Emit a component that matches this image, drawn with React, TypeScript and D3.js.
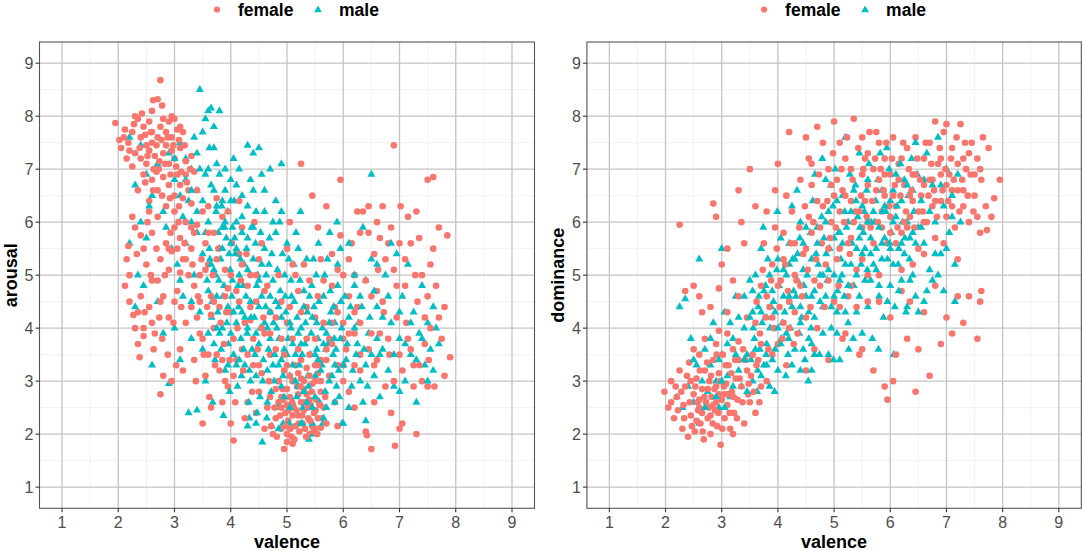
import React from "react";
import * as d3 from "d3";

// ---------- data ----------
const ticks = [1, 2, 3, 4, 5, 6, 7, 8, 9];
const minorTicks = [1.5, 2.5, 3.5, 4.5, 5.5, 6.5, 7.5, 8.5];
const series = ["female", "male"];
const colors = ["#F8766D", "#00BFC4"];

// left panel: [valence, arousal]
const femaleArousal: [number, number][] = [
  [1.95,7.87],[2.05,7.4],[2.1,7.6],[2.18,7.5],[2.25,7.7],[2.3,8.0],[2.35,7.95],[2.4,7.6],[2.45,7.8],[2.5,7.45],[2.55,7.9],[2.6,8.1],[2.62,8.3],[2.7,8.32],[2.75,8.68],[2.78,8.2],[2.8,7.95],[2.85,7.7],[2.9,7.9],[2.95,7.6],[3.0,7.95],[3.05,7.75],[3.1,7.8],[3.15,7.7],[2.3,7.3],[2.4,7.2],[2.5,7.1],[2.55,7.35],[2.6,7.5],[2.65,7.25],[2.7,7.6],[2.72,7.0],[2.8,7.3],[2.85,7.45],[2.9,7.1],[2.95,7.35],[3.0,7.2],[3.05,6.9],[3.1,7.4],[3.2,7.15],[2.45,6.9],[2.6,6.8],[2.7,6.6],[2.8,6.85],[2.9,6.7],[3.0,6.5],[3.1,6.7],[3.2,6.9],[3.25,6.6],[2.35,6.6],[2.55,6.4],[2.25,7.05],[2.15,7.2],[2.6,7.7],[2.75,7.8],[2.95,8.0],[3.3,7.25],[3.35,6.95],[3.4,6.6],[3.3,6.35],
  [2.15,5.3],[2.2,5.0],[2.25,6.1],[2.3,5.9],[2.3,4.0],[2.35,3.7],[2.4,4.6],[2.45,5.5],[2.5,5.2],[2.55,4.4],[2.6,5.8],[2.65,3.9],[2.7,4.9],[2.75,2.75],[2.8,3.1],[2.85,5.6],[2.9,4.2],[2.95,3.0],[3.0,5.9],[3.05,4.7],[3.1,3.6],[3.15,5.3],[3.2,4.1],[2.4,5.75],[2.55,6.2],[2.7,6.1],[2.85,6.3],[3.0,6.2],[3.1,5.7],[3.2,6.0],[2.6,4.1],[2.75,5.3],[2.9,5.1],[3.0,4.5],[3.15,3.2],[2.2,4.5],[2.45,3.85],[2.8,4.6],[3.1,5.05],[2.95,5.45],
  [3.3,5.5],[3.35,4.8],[3.4,4.2],[3.45,3.9],[3.5,2.2],[3.55,3.1],[3.6,5.2],[3.65,4.6],[3.7,5.8],[3.75,3.5],[3.8,4.4],[3.85,6.1],[3.9,3.0],[3.95,2.9],[4.0,2.2],[4.05,1.88],[4.1,4.7],[4.15,5.4],[4.2,3.6],[4.25,4.1],[4.3,2.6],[4.35,5.0],[4.4,3.3],[4.45,4.5],[4.5,2.8],[4.55,5.6],[4.6,3.9],[4.65,2.5],[4.7,4.3],[3.4,5.95],[3.55,5.6],[3.7,4.0],[3.8,3.2],[3.9,5.1],[4.0,4.3],[4.1,3.4],[4.2,5.9],[4.3,4.8],[4.4,3.8],[4.5,5.3],[4.6,4.7],[3.35,3.4],[3.5,3.8],[3.65,2.5],[3.85,2.6],[4.05,3.1],[4.25,2.3],[4.45,2.4],[4.6,2.1],[4.7,3.5],[3.6,6.3],[3.75,6.45],[3.95,6.2],[4.15,6.4],[3.3,4.4],[3.45,5.0],[3.65,4.25],[3.95,4.75],[4.35,4.15],[4.55,3.15],
  [4.75,2.0],[4.8,2.3],[4.85,2.6],[4.9,2.1],[4.92,2.85],[4.95,1.72],[4.97,2.4],[5.0,2.0],[5.02,2.25],[5.05,2.7],[5.08,1.95],[5.1,1.82],[5.12,2.5],[5.15,2.15],[5.18,2.9],[5.2,2.35],[5.22,2.05],[5.25,2.6],[5.28,2.2],[5.3,2.45],[5.32,2.1],[5.35,2.75],[5.38,2.3],[5.4,2.0],[5.42,2.55],[5.45,2.15],[5.48,2.4],[5.5,2.1],[5.52,2.65],[5.55,2.3],[5.6,2.12],[5.65,2.5],[4.85,3.0],[4.95,3.2],[5.05,3.1],[5.15,3.3],[5.25,3.05],[5.35,3.25],[5.45,2.95],[5.55,3.15],[4.9,2.5],[5.0,2.55],[5.1,2.35],[5.2,2.75],[5.3,2.85],[5.4,2.65],[4.7,2.7],[4.8,2.85],[5.6,2.8],[5.0,1.85],
  [4.8,3.6],[4.9,4.5],[5.0,5.5],[5.05,6.0],[5.1,3.8],[5.2,4.7],[5.25,7.1],[5.3,5.2],[5.4,3.5],[5.45,6.5],[5.5,4.2],[5.55,5.9],[5.6,3.4],[5.65,4.9],[5.7,6.3],[5.75,3.8],[5.8,5.4],[5.85,4.4],[5.9,3.3],[5.95,6.8],[6.0,5.0],[6.05,3.6],[6.1,4.6],[6.15,5.6],[6.2,3.9],[6.25,6.2],[5.0,4.1],[5.15,5.0],[5.35,4.4],[5.6,5.3],[5.8,4.8],[6.0,4.1],[6.2,5.0],[5.7,2.2],[5.9,2.15],[6.1,2.8],[6.2,2.5],[5.85,2.6],[6.3,3.5],[5.5,3.0],[5.75,3.1],[6.0,3.3],[6.25,4.4],[6.3,5.8],[5.95,5.75],
  [6.35,6.2],[6.4,2.05],[6.42,1.98],[6.45,5.8],[6.5,1.72],[6.5,4.6],[6.55,3.3],[6.6,6.0],[6.62,5.1],[6.65,3.9],[6.7,6.3],[6.72,4.3],[6.75,2.9],[6.8,5.6],[6.82,3.5],[6.85,5.9],[6.9,7.45],[6.92,1.78],[6.95,4.8],[7.0,2.1],[7.02,6.3],[7.05,2.2],[7.05,3.2],[7.1,5.3],[7.12,4.1],[7.15,6.1],[7.2,3.6],[7.25,2.9],[7.28,5.0],[7.3,2.0],[7.32,4.5],[7.35,5.7],[7.4,3.0],[7.45,4.2],[7.5,6.8],[7.52,3.4],[7.55,5.2],[7.6,6.85],[7.62,2.9],[7.65,4.8],[7.7,5.9],[7.75,3.8],[7.8,4.4],[7.85,5.75],[7.9,3.45],[6.45,3.6],[6.6,4.7],[6.75,5.3],[6.9,3.0],[7.0,5.6],[7.15,3.8],[7.35,3.3],[7.5,4.6],[6.55,2.6],[6.85,2.4],
  [2.02,7.55],[2.12,7.75],[2.2,7.35],[2.28,7.85],[2.38,7.4],[2.42,8.05],[2.48,7.65],[2.52,7.25],[2.58,7.7],[2.63,7.0],[2.68,7.45],[2.73,7.15],[2.77,7.55],[2.83,7.1],[2.88,7.6],[2.93,6.9],[2.98,7.45],[3.03,7.05],[3.08,7.55],[3.12,6.95],[3.18,7.45],[3.22,6.75],[2.62,6.6],[2.78,6.5],[2.92,6.45],[3.08,6.3],[2.48,6.75],[2.68,6.95],[3.28,7.0],[3.15,6.45],
  [2.12,4.8],[2.18,5.55],[2.27,4.25],[2.33,5.4],[2.38,3.45],[2.47,4.3],[2.52,6.0],[2.58,5.0],[2.63,3.6],[2.68,5.5],[2.73,4.2],[2.78,3.8],[2.83,5.0],[2.88,3.5],[2.93,5.8],[2.98,4.1],[3.03,3.3],[3.07,6.0],[3.12,4.4],[3.18,5.6],
  [3.32,5.2],[3.38,3.0],[3.42,4.6],[3.48,5.3],[3.52,3.5],[3.58,4.4],[3.62,2.7],[3.68,5.0],[3.72,3.3],[3.78,5.5],[3.82,4.1],[3.88,3.7],[3.92,4.3],[3.98,3.4],[4.02,5.6],[4.08,2.6],[4.12,4.0],[4.18,4.9],[4.22,3.2],[4.28,5.4],[4.38,2.8],[4.48,3.6],[4.58,4.2],[4.68,3.0],[4.42,6.0],
  [4.72,2.15],[4.78,2.5],[4.82,1.95],[4.88,2.35],[4.93,2.65],[4.98,2.15],[5.03,2.45],[5.06,2.1],[5.09,2.6],[5.13,1.9],[5.17,2.45],[5.21,2.2],[5.24,2.9],[5.27,2.35],[5.31,2.6],[5.34,1.95],[5.37,2.5],[5.41,2.25],[5.44,2.8],[5.47,2.05],[5.51,2.45],[5.54,2.0],[5.58,2.55],[5.62,2.3],[5.68,2.7],[4.9,2.7],[5.0,2.85],[5.1,3.0],[5.2,3.15],[5.3,3.0],[5.4,3.1],[5.5,3.3],[5.6,3.0],[4.95,3.5],[5.25,3.4],
  [5.55,4.6],[5.7,3.6],[5.8,4.1],[5.9,5.1],[6.0,3.8],[6.1,5.3],[6.2,4.3],[6.3,3.2],[6.4,4.9],[6.5,3.9],[6.55,5.4],[6.6,3.4],[6.7,4.5],[6.8,3.8],[6.9,5.1],[6.95,4.2],[7.0,3.5],[7.1,4.8],[7.2,5.6],[7.25,3.3],[7.3,6.2],[7.4,5.0],[7.45,3.7],[7.5,2.9],[7.55,4.0],[7.6,5.5],[7.7,4.2],[7.8,3.1],[6.45,6.3],[6.65,5.7],
  [3.25,5.0],[3.35,5.8],[3.45,4.5],[3.55,5.1],[3.6,3.5],[3.7,4.5],[3.75,5.3],[3.85,3.4],[3.9,4.6],[4.0,5.0],[4.05,3.8],[4.15,4.5],[4.2,5.2],[4.3,3.5],[4.35,4.4],[4.45,5.0],[4.5,3.3],[4.55,4.0],[4.65,4.8],[4.7,3.9],[4.8,4.2],[4.85,5.0],[4.9,3.8],[5.0,3.3],[5.05,4.4],[5.1,5.2],[5.2,3.6],[5.25,4.3],[5.35,3.8],[5.4,4.9],[5.5,3.8],[5.55,3.3],[5.65,4.1],[5.7,3.4],[5.8,3.7],[5.9,4.3],[6.0,3.0],[6.1,3.9],[6.2,3.3],[6.3,4.1],[3.5,6.2],[3.6,5.8],[3.3,5.9],[3.2,5.3],[3.05,5.5],[2.9,5.5],[2.75,4.5],[2.6,4.9],[2.45,4.0],[2.35,4.3],
];

const maleArousal: [number, number][] = [
  [2.2,7.6],[2.3,6.7],[2.4,7.45],[2.5,6.9],[2.6,6.5],[2.8,6.2],[2.9,7.3],[3.0,6.8],[3.1,7.5],[3.2,7.2],[3.25,6.4],[3.3,7.0],[3.35,7.6],[3.4,6.2],[3.45,8.5],[3.5,7.7],[3.55,6.9],[3.6,8.1],[3.62,7.4],[3.65,8.15],[3.7,6.6],[3.75,7.1],[3.8,8.1],[3.85,6.4],[3.9,7.0],[3.95,6.2],[4.0,6.8],[4.05,7.2],[4.1,6.0],[4.2,6.5],[4.3,7.45],[4.35,6.8],[4.4,7.3],[4.45,6.2],[4.5,7.4],[4.6,6.6],[4.7,7.0],[4.8,6.4],[4.9,7.1],[3.55,7.95],[3.7,7.8],[3.4,6.6],[3.3,6.0],[3.6,6.0],[3.85,5.9],[4.15,7.0],[2.7,7.1],[3.15,6.1],[4.55,6.9],[4.9,6.2],
  [2.2,5.6],[2.3,4.4],[2.35,5.0],[2.45,4.8],[2.5,5.7],[2.6,3.3],[2.7,4.5],[2.8,3.9],[2.85,5.9],[2.9,2.95],[3.0,4.0],[3.05,5.2],[3.1,3.4],[3.15,4.6],[3.2,5.6],[3.25,2.4],[3.3,3.8],[3.35,5.0],[3.4,2.45],[3.45,4.3],[3.5,5.4],[3.55,3.0],[3.6,4.7],[2.4,6.0],[2.55,6.3],[2.95,5.5],[3.1,4.9],[3.3,4.5],[3.5,3.6],[3.4,5.8],
  [3.62,5.5],[3.66,4.2],[3.7,5.1],[3.72,3.4],[3.75,4.6],[3.78,5.8],[3.8,3.9],[3.68,2.6],[3.74,6.2],[3.79,4.9],
  [3.82,5.3],[3.85,4.0],[3.88,4.8],[3.9,3.2],[3.92,5.7],[3.95,4.4],[3.98,2.8],[3.84,6.3],[3.96,3.7],[3.99,5.1],[3.87,2.35],
  [4.02,4.6],[4.05,3.5],[4.08,5.4],[4.1,4.1],[4.12,2.9],[4.15,5.0],[4.18,3.8],[4.03,5.9],[4.14,4.4],[4.19,3.1],[4.06,6.4],
  [4.22,4.8],[4.25,3.3],[4.28,5.5],[4.3,4.0],[4.32,2.6],[4.35,4.5],[4.38,3.6],[4.24,5.2],[4.33,2.3],[4.37,5.9],[4.29,3.9],
  [4.42,4.2],[4.45,3.1],[4.48,5.0],[4.5,3.7],[4.52,2.7],[4.55,4.6],[4.58,3.4],[4.44,5.6],[4.56,1.85],[4.53,4.0],[4.47,2.4],
  [4.62,4.4],[4.65,3.2],[4.68,5.2],[4.7,3.8],[4.72,2.8],[4.75,4.9],[4.78,3.5],[4.64,2.3],[4.76,4.1],[4.69,5.7],[4.73,2.15],
  [4.82,4.0],[4.85,3.3],[4.88,4.7],[4.9,2.9],[4.92,5.4],[4.95,3.6],[4.98,4.3],[4.84,2.5],[4.96,5.0],[4.87,6.0],[4.93,2.2],
  [5.02,3.8],[5.05,3.1],[5.08,4.6],[5.1,2.6],[5.12,5.2],[5.15,3.5],[5.18,4.2],[5.04,2.2],[5.16,5.8],[5.07,4.9],[5.19,2.9],
  [5.22,3.3],[5.25,4.0],[5.28,2.5],[5.3,4.7],[5.32,3.7],[5.35,5.3],[5.38,2.9],[5.24,6.2],[5.36,4.3],[5.39,1.9],[5.27,2.2],
  [5.42,3.5],[5.45,2.2],[5.48,4.4],[5.5,3.1],[5.52,5.0],[5.55,3.8],[5.58,2.6],[5.44,4.8],[5.56,5.6],[5.47,2.0],[5.53,4.1],
  [5.62,3.3],[5.65,4.6],[5.68,2.8],[5.7,3.9],[5.72,5.3],[5.75,3.0],[5.78,4.3],[5.64,2.2],[5.76,5.8],[5.69,3.6],
  [5.82,3.5],[5.85,4.1],[5.88,2.9],[5.9,4.8],[5.92,3.2],[5.95,5.5],[5.98,2.2],[5.84,3.8],[5.96,4.5],[5.89,6.0],
  [6.05,3.4],[6.1,4.2],[6.15,2.9],[6.2,5.0],[6.25,3.7],[6.3,4.6],[6.35,2.6],[6.4,2.25],[6.45,3.9],[6.5,6.9],[6.5,5.3],[6.55,3.1],[6.6,4.4],[6.65,2.7],[6.7,3.6],[6.75,5.0],[6.8,3.2],[6.85,4.1],[6.9,2.9],[6.95,5.4],[7.0,3.8],[7.05,4.6],[7.1,3.0],[7.15,5.2],[7.2,3.5],[7.25,4.3],[7.3,2.6],[7.35,3.9],[7.4,4.8],[7.45,3.3],[7.5,4.1],[7.55,3.6],[7.6,3.2],[7.65,4.0],[7.7,3.7],[6.2,4.0],[6.4,3.3],[6.6,3.8],[6.1,5.6],[6.35,5.9],
  [3.0,7.2],[3.1,6.5],[3.2,6.8],[3.3,6.6],[3.4,7.3],[3.5,6.4],[3.6,7.0],[3.65,6.7],[3.7,7.4],[3.75,6.3],[3.8,6.9],[3.9,6.6],[4.0,6.4],[4.1,6.7],[4.2,6.1],[4.3,6.3],[4.4,6.6],[4.6,6.2],[4.75,6.0],[3.45,7.0],
  [3.55,5.8],[3.58,4.9],[3.6,3.9],[3.63,5.3],[3.67,4.5],[3.7,3.7],[3.73,5.0],[3.77,4.3],[3.8,5.5],[3.83,3.6],
  [3.86,4.6],[3.89,5.9],[3.93,4.1],[3.97,5.4],[4.0,3.9],[4.03,4.9],[4.07,5.7],[4.1,3.3],[4.13,4.8],[4.17,5.3],
  [4.2,4.3],[4.23,3.6],[4.27,4.6],[4.3,5.7],[4.33,3.2],[4.36,4.2],[4.4,5.3],[4.43,3.5],[4.46,4.8],[4.5,4.4],
  [4.53,5.8],[4.57,3.0],[4.6,4.1],[4.63,5.0],[4.67,3.6],[4.7,4.6],[4.73,5.4],[4.77,3.0],[4.8,4.5],[4.83,5.1],
  [4.86,3.8],[4.9,4.2],[4.93,3.1],[4.97,4.6],[5.0,3.5],[5.03,5.3],[5.07,4.0],[5.1,3.3],[5.13,4.5],[5.17,2.7],
  [5.2,3.9],[5.23,4.9],[5.27,3.5],[5.3,2.8],[5.33,4.1],[5.37,3.1],[5.4,4.6],[5.43,3.9],[5.47,5.3],[5.5,2.7],
  [5.53,3.6],[5.57,4.5],[5.6,3.2],[5.63,4.0],[5.67,5.0],[5.7,2.5],[5.73,3.7],[5.77,4.7],[5.8,3.1],[5.83,4.4],
  [5.87,3.6],[5.9,5.2],[5.93,2.7],[5.97,4.0],[6.0,3.3],[6.03,4.6],[6.07,3.7],[6.1,2.5],[6.13,4.4],[6.17,3.2],
  [6.2,4.8],[6.23,3.5],[6.27,4.1],[6.3,3.0],[6.33,4.4],[6.37,3.6],[6.4,4.9],[6.43,2.9],[6.47,4.2],[6.5,3.5],
  [4.45,2.2],[4.65,2.6],[4.85,2.1],[5.05,2.5],[5.25,2.2],[5.45,2.5],[5.65,2.3],[5.85,2.6],[6.0,2.2],[4.3,2.15],
  [6.55,4.7],[6.65,3.5],[6.7,4.2],[6.8,4.6],[6.9,3.5],[7.0,4.3],[7.1,3.7],[7.2,4.1],[7.3,3.4],[7.4,3.8],[7.5,3.0],[7.6,4.4],[6.6,5.2],[6.85,5.6],[7.0,2.8],
  [3.65,5.2],[3.75,4.0],[3.85,5.5],[3.95,3.3],[4.05,4.3],[4.15,3.4],[4.25,4.2],[4.35,3.0],[4.45,3.9],[4.55,5.2],[4.65,4.0],[4.75,3.3],[4.85,4.4],[4.95,2.7],[5.05,4.1],[5.15,3.0],[5.25,3.7],[5.35,2.6],[5.45,4.2],[5.55,3.4],[5.65,3.7],[5.75,4.1],[5.85,3.3],[5.95,3.8],[4.1,5.5],[4.3,5.1],[4.5,4.9],[4.7,4.3],[4.9,3.4],[5.1,3.7],[5.3,4.4],[5.5,3.5],[4.0,5.6],[3.9,6.0],[4.2,5.8],[4.4,5.9],[4.6,5.5],[4.8,5.8],[5.0,5.6],[5.2,5.5],
];

// right panel: [valence, dominance]
const femaleDominance: [number, number][] = [
  [1.98,2.8],[2.05,2.5],[2.1,3.0],[2.15,2.3],[2.2,2.7],[2.25,3.2],[2.3,2.1],[2.32,2.55],[2.35,2.9],[2.4,1.95],[2.42,3.35],[2.45,2.35],[2.5,2.75],[2.52,2.05],[2.55,3.05],[2.58,2.45],[2.6,3.5],[2.62,2.2],[2.65,2.85],[2.68,1.9],[2.7,3.2],[2.72,2.6],[2.75,2.3],[2.78,3.0],[2.8,2.0],[2.82,2.7],[2.85,3.4],[2.88,2.45],[2.9,2.9],[2.92,2.15],[2.95,3.15],[2.98,1.8],[3.0,2.65],[3.02,3.5],[3.05,2.3],[3.08,2.95],[3.1,2.55],[3.12,3.3],[3.15,2.1],[3.18,2.8],[3.2,3.6],[3.22,2.4],[3.25,3.05],[3.28,2.65],[3.3,3.4],[3.35,2.9],[3.4,2.2],[3.45,3.2],[3.5,2.6],[3.55,3.5],[2.5,3.6],[2.7,3.8],[2.9,3.7],[3.1,3.9],[3.3,3.75],[2.6,2.65],[2.75,2.85],[2.85,2.55],[2.95,2.75],[3.05,2.75],[2.65,2.4],[2.8,2.35],[3.2,2.0],[3.6,2.4],[3.7,2.9],[2.45,3.0],[2.55,2.25],[2.95,3.95],[3.38,3.6],[3.48,2.95],
  [2.25,5.95],[2.35,4.7],[2.5,4.8],[2.6,4.6],[2.65,4.3],[2.8,4.4],[2.85,6.35],[2.9,6.1],[3.0,5.2],[3.1,5.5],[3.2,4.9],[3.3,6.6],[3.35,6.0],[3.4,5.6],[3.5,7.0],[3.6,6.3],[3.3,4.6],[3.45,4.2],[3.1,4.3],[2.95,4.75],
  [3.6,4.1],[3.65,3.4],[3.7,4.8],[3.75,5.6],[3.8,3.0],[3.85,4.4],[3.9,5.2],[3.95,6.6],[4.0,3.7],[4.05,4.9],[4.1,5.8],[4.15,3.3],[4.2,4.5],[4.25,6.2],[4.3,5.0],[4.35,3.9],[4.4,6.8],[4.45,5.4],[4.5,4.2],[4.55,7.2],[4.6,5.8],[4.65,3.6],[4.7,6.4],[4.75,4.8],[4.8,7.5],[4.85,5.2],[4.9,3.4],[4.95,6.0],[5.0,7.9],[5.0,4.5],[5.05,6.8],[5.1,5.5],[5.15,3.8],[5.2,7.2],[5.25,4.6],[5.3,6.4],[5.35,7.95],[5.4,5.1],[5.45,3.5],[5.5,6.9],[3.8,6.2],[4.0,7.1],[4.2,7.7],[4.5,7.6],[4.7,7.8],[4.9,7.0],[3.7,3.7],[3.9,3.5],[4.1,4.1],[4.3,4.3],[4.5,3.2],[4.7,4.0],[4.9,4.9],[5.1,6.2],[5.3,5.7],[5.5,5.9],[3.95,5.9],[4.15,6.5],[4.6,6.7],[5.2,6.5],
  [5.5,7.6],[5.55,6.4],[5.6,7.3],[5.65,5.9],[5.7,7.0],[5.75,6.6],[5.8,7.5],[5.85,6.2],[5.9,7.2],[5.95,5.6],[6.0,6.9],[6.05,7.6],[6.1,6.3],[6.15,7.1],[6.2,5.8],[6.25,6.7],[6.3,7.4],[6.35,6.1],[6.4,6.9],[6.45,7.6],[6.5,5.5],[6.55,6.5],[6.6,7.2],[6.65,6.0],[6.7,7.5],[6.75,6.8],[6.8,5.7],[6.85,7.1],[6.9,6.4],[6.95,7.7],[7.0,6.1],[7.05,6.9],[7.1,7.4],[7.15,5.9],[7.2,6.6],[7.25,7.85],[7.3,6.3],[7.35,7.0],[7.4,6.0],[7.45,7.5],[7.5,6.5],[7.55,7.2],[7.6,5.8],[7.62,6.8],[7.65,7.6],[7.7,6.3],[7.75,7.4],[7.8,6.1],[7.85,6.45],[7.95,6.8],[7.72,5.85],[7.55,6.1],[6.8,7.9],[7.0,7.85],[6.2,7.2],[6.4,6.4],[6.6,6.7],[6.75,6.3],[6.9,6.9],[7.1,6.6],[7.3,7.2],[5.8,6.8],[6.0,6.1],[6.1,5.6],[6.3,5.9],[6.6,5.4],[6.95,5.6],[7.2,5.3],[5.6,6.7],[5.9,6.5],
  [5.1,4.4],[5.2,3.9],[5.3,4.8],[5.5,3.6],[5.6,4.5],[5.7,3.2],[5.8,5.0],[5.9,2.9],[5.95,2.65],[6.0,4.2],[6.1,3.5],[6.2,4.7],[6.3,3.8],[6.4,5.2],[6.45,2.8],[6.5,3.6],[6.6,4.3],[6.7,3.1],[6.8,4.8],[6.9,3.7],[7.0,4.2],[7.1,3.9],[7.2,4.6],[7.3,4.1],[7.4,4.6],[7.55,3.8],[7.62,4.7],[7.6,4.5],[6.05,3.0],[6.35,4.5],
  [2.1,2.6],[2.18,2.9],[2.22,2.45],[2.28,2.8],[2.33,2.3],[2.38,3.1],[2.43,2.6],[2.47,2.15],[2.53,2.9],[2.57,2.6],[2.61,3.2],[2.66,2.05],[2.69,2.7],[2.74,3.35],[2.77,2.5],[2.81,3.1],[2.84,2.2],[2.87,2.85],[2.91,3.5],[2.94,2.4],[2.97,3.0],[3.01,2.1],[3.04,2.9],[3.07,3.3],[3.11,2.75],[3.14,2.4],[3.17,3.15],[3.21,2.7],[3.24,3.4],[3.27,2.3],[3.32,3.05],[3.37,2.6],[3.42,3.4],[3.47,2.75],[3.52,3.1],[3.57,2.8],[3.62,3.3],[3.67,2.6],[2.6,2.5],[2.9,2.6],
  [3.62,4.5],[3.68,3.9],[3.73,5.1],[3.78,4.2],[3.83,3.6],[3.88,4.9],[3.93,4.0],[3.98,5.5],[4.03,4.4],[4.08,3.8],[4.13,5.2],[4.18,4.7],[4.23,5.6],[4.28,3.7],[4.33,4.9],[4.38,5.9],[4.43,4.6],[4.48,6.3],[4.53,5.1],[4.58,4.4],[4.63,6.0],[4.68,5.3],[4.73,6.9],[4.78,5.6],[4.83,4.4],[4.88,6.4],[4.93,5.7],[4.98,7.3],[5.03,5.9],[5.08,4.8],[5.13,7.0],[5.18,6.0],[5.23,7.6],[5.28,5.4],[5.33,6.8],[5.38,6.2],[5.43,7.4],[5.48,6.5],[5.0,6.5],[4.6,7.1],
  [5.52,7.0],[5.58,6.1],[5.63,7.7],[5.68,6.4],[5.73,7.2],[5.78,6.0],[5.83,7.0],[5.88,6.6],[5.93,7.5],[5.98,6.3],[6.03,7.2],[6.08,6.7],[6.13,5.9],[6.18,6.5],[6.23,7.5],[6.28,6.2],[6.33,7.0],[6.38,6.6],[6.43,5.9],[6.48,7.2],[6.53,6.8],[6.58,6.2],[6.63,7.5],[6.68,6.5],[6.73,7.1],[6.78,6.6],[6.83,6.1],[6.88,7.4],[6.93,6.6],[6.98,7.0],[7.03,6.4],[7.08,7.2],[7.13,6.8],[7.18,7.6],[7.23,6.2],[7.28,6.8],[7.33,7.5],[7.38,6.5],[7.43,6.9],[7.48,6.2],
  [3.8,4.6],[3.9,4.2],[4.0,4.8],[4.1,5.3],[4.2,4.0],[4.3,5.6],[4.4,4.8],[4.5,5.5],[4.55,6.1],[4.65,4.9],[4.75,5.9],[4.8,6.3],[4.9,5.5],[4.95,6.7],[5.05,5.3],[5.1,7.5],[5.15,6.6],[5.25,5.6],[5.3,7.0],[5.35,6.0],[5.45,6.2],[5.5,5.3],[5.55,7.2],[5.6,6.0],[5.7,5.6],[5.75,7.7],[5.85,5.9],[5.9,6.9],[6.0,5.8],[6.05,6.5],[6.15,6.8],[6.25,6.0],[6.35,6.5],[6.45,6.9],[6.5,6.2],[6.6,6.0],[6.7,6.8],[6.8,6.4],[6.9,7.2],[7.0,6.7],[7.1,6.3],[7.2,7.1],[7.3,6.6],[7.4,7.3],[7.5,6.9],[7.6,7.0],[5.4,4.4],[5.6,5.0],[5.8,4.5],[6.2,5.1],
];

const maleDominance: [number, number][] = [
  [2.2,2.7],[2.25,4.4],[2.3,2.5],[2.4,2.9],[2.45,3.8],[2.5,2.6],[2.55,3.3],[2.6,2.2],[2.65,3.0],[2.7,3.6],[2.75,2.8],[2.8,3.3],[2.85,4.1],[2.9,3.0],[2.95,2.5],[3.0,3.5],[3.05,4.3],[3.1,3.1],[3.15,2.7],[3.2,3.8],[3.25,4.6],[3.3,3.2],[3.35,2.9],[3.4,4.0],[3.45,3.5],[3.5,4.9],[3.55,3.0],[2.35,4.55],[2.6,5.3],[3.0,5.5],
  [3.52,3.4],[3.55,4.3],[3.58,3.8],[3.6,5.0],[3.63,2.8],[3.66,4.6],[3.68,3.6],[3.7,5.5],[3.56,4.0],[3.64,3.2],
  [3.72,4.1],[3.75,3.3],[3.78,4.8],[3.8,3.7],[3.82,5.3],[3.85,2.9],[3.88,4.4],[3.74,5.9],[3.86,4.0],[3.79,3.5],
  [3.92,4.5],[3.95,3.6],[3.98,5.1],[4.0,3.2],[4.02,4.8],[4.05,5.7],[4.08,4.1],[3.94,2.8],[4.06,3.8],[3.99,6.2],
  [4.12,4.3],[4.15,5.0],[4.18,3.5],[4.2,5.6],[4.22,4.0],[4.25,6.3],[4.28,4.7],[4.14,3.1],[4.26,5.3],[4.19,3.8],
  [4.32,4.6],[4.35,5.4],[4.38,3.9],[4.4,6.0],[4.42,4.2],[4.45,5.1],[4.48,3.4],[4.34,6.6],[4.46,4.8],[4.39,5.7],
  [4.52,5.0],[4.55,4.3],[4.58,5.8],[4.6,3.7],[4.62,6.4],[4.65,4.7],[4.68,5.4],[4.54,3.0],[4.66,6.9],[4.59,4.0],
  [4.72,5.2],[4.75,4.5],[4.78,6.1],[4.8,3.9],[4.82,5.7],[4.85,6.8],[4.88,4.9],[4.74,3.5],[4.86,5.4],[4.79,7.2],
  [4.92,5.5],[4.95,4.4],[4.98,6.3],[5.0,5.0],[5.02,7.0],[5.05,3.9],[5.08,5.8],[4.94,6.7],[5.06,4.7],[4.99,3.4],
  [5.12,5.3],[5.15,6.5],[5.18,4.6],[5.2,7.6],[5.22,5.9],[5.25,4.1],[5.28,6.9],[5.14,5.0],[5.26,3.6],[5.19,6.2],
  [5.32,5.6],[5.35,4.8],[5.38,6.7],[5.4,4.3],[5.42,6.1],[5.45,7.3],[5.48,5.2],[5.34,3.8],[5.46,5.9],[5.39,6.4],
  [5.52,5.8],[5.55,4.9],[5.58,6.6],[5.6,4.4],[5.62,7.1],[5.65,5.4],[5.68,3.8],[5.54,6.2],[5.66,6.0],[5.59,5.1],
  [5.72,6.0],[5.75,5.1],[5.78,6.8],[5.8,4.6],[5.82,7.3],[5.85,5.6],[5.88,4.2],[5.74,6.4],[5.86,6.2],[5.79,3.6],
  [5.92,6.2],[5.95,5.3],[5.98,7.0],[6.0,4.8],[6.02,5.8],[6.05,6.6],[6.08,4.4],[5.94,7.4],[6.06,3.5],[5.99,5.6],
  [6.12,6.3],[6.15,5.5],[6.18,7.1],[6.2,4.9],[6.22,6.0],[6.25,6.8],[6.28,4.3],[6.14,5.2],[6.26,5.7],
  [6.32,6.5],[6.35,5.7],[6.38,7.2],[6.4,5.0],[6.42,6.2],[6.45,4.6],[6.48,6.9],[6.34,5.3],
  [6.55,6.4],[6.6,5.6],[6.65,7.3],[6.7,5.1],[6.75,6.7],[6.8,6.0],[6.85,7.6],[6.9,5.4],[6.95,6.3],[7.0,7.0],[7.05,5.8],[7.1,6.5],[7.15,5.2],[7.2,6.9],[6.6,4.5],[6.75,4.9],[6.95,4.7],[6.5,5.9],[7.25,6.0],[6.45,7.5],
  [3.6,3.6],[3.65,4.4],[3.7,3.1],[3.75,4.7],[3.8,4.2],[3.85,5.0],[3.9,3.4],[3.95,4.3],[4.0,5.3],[4.05,3.7],
  [4.1,4.6],[4.15,3.9],[4.2,5.2],[4.25,4.4],[4.3,3.6],[4.35,4.9],[4.4,4.1],[4.45,5.6],[4.5,4.6],[4.55,3.8],
  [4.6,5.3],[4.65,4.2],[4.7,5.9],[4.75,5.0],[4.8,4.4],[4.85,6.0],[4.9,5.1],[4.95,4.0],[5.0,5.7],[5.05,6.4],
  [5.1,4.9],[5.15,5.6],[5.2,4.3],[5.25,6.0],[5.3,5.2],[5.35,6.6],[5.4,5.5],[5.45,4.6],[5.5,6.3],[5.55,5.5],
  [5.6,6.8],[5.65,4.9],[5.7,6.2],[5.75,5.5],[5.8,4.8],[5.85,6.6],[5.9,5.7],[5.95,4.5],[6.0,6.4],[6.05,5.2],
  [6.1,6.9],[6.15,4.7],[6.2,6.4],[6.25,5.4],[6.3,6.0],[6.35,4.9],[6.4,6.6],[6.45,5.6],[6.5,4.3],[6.55,5.9],
  [6.6,6.8],[6.7,6.2],[6.8,5.4],[6.9,6.7],[7.0,5.5],[7.1,6.1],[6.65,4.7],[6.85,5.0],[7.15,4.5],[6.3,4.4],
  [2.5,3.4],[2.7,2.5],[2.8,3.8],[2.9,2.7],[3.0,3.0],[3.1,3.7],[3.2,2.9],[3.3,4.2],[3.4,3.4],[3.45,2.8],
  [3.55,4.7],[3.25,3.5],[3.15,4.1],[3.05,2.5],[2.95,3.4],[4.4,3.2],[4.6,3.2],[4.9,3.5],[5.1,3.4],[5.5,3.9],
  [3.7,4.3],[3.8,3.3],[3.9,4.7],[4.0,4.0],[4.1,5.1],[4.2,4.6],[4.3,5.3],[4.4,4.4],[4.5,5.9],[4.6,4.6],[4.7,5.6],[4.8,5.0],[4.9,6.2],[5.0,4.6],[5.1,5.8],[5.2,5.2],[5.3,6.2],[5.4,5.0],[5.5,5.4],[5.6,6.0],[5.7,5.2],[5.8,5.9],[5.9,6.3],[6.0,5.5],[6.1,6.1],[6.2,5.6],[6.3,6.7],[6.4,5.8],[4.25,3.3],[4.45,3.6],[4.65,3.5],[4.85,4.6],[5.05,4.3],[5.25,4.8],[5.45,5.7],[5.65,5.7],[5.85,5.3],[6.05,6.0],[3.5,4.2],[3.4,4.6],
];

const xTitle = "valence";
const yTitles = ["arousal", "dominance"];

// ---------- layout ----------
const W = 1084;
const H = 551;
const domain: [number, number] = [0.6, 9.4];
const panelTop = 42;
const panelBottom = 508.3;
const panels = [
  { left: 39.5, right: 534.5, female: femaleArousal, male: maleArousal, yTitle: yTitles[0], yTitleX: 17 },
  { left: 586.9, right: 1081.3, female: femaleDominance, male: maleDominance, yTitle: yTitles[1], yTitleX: 564 },
];
const font = "'Liberation Sans', Arial, Helvetica, sans-serif";
const triPath = d3.symbol(d3.symbolTriangle, 28)() as string;
const triLegend = d3.symbol(d3.symbolTriangle, 26)() as string;

type Pt = { d: [number, number]; s: number; k: number };
function interleave(f: [number, number][], m: [number, number][]): Pt[] {
  const a: Pt[] = [
    ...f.map((d, i) => ({ d, s: 0, k: i / f.length })),
    ...m.map((d, i) => ({ d, s: 1, k: (i + 0.5) / m.length })),
  ];
  return a.sort((p, q) => p.k - q.k);
}

function Panel({ p }: { p: (typeof panels)[number] }) {
  const x = d3.scaleLinear().domain(domain).range([p.left, p.right]);
  const y = d3.scaleLinear().domain(domain).range([panelBottom, panelTop]);
  const cx = (p.left + p.right) / 2;
  const cy = (panelTop + panelBottom) / 2;
  const pts = interleave(p.female, p.male);
  return (
    <g>
      {/* legend */}
      <g fontFamily={font} fontWeight="bold" fontSize={17.5} fill="#000">
        <circle cx={cx - 70} cy={9.5} r={3.1} fill={colors[0]} />
        <text x={cx - 49} y={16}>{series[0]}</text>
        <path d={triLegend} transform={`translate(${cx + 31},${10})`} fill={colors[1]} />
        <text x={cx + 52} y={16}>{series[1]}</text>
      </g>
      {/* panel background */}
      <rect x={p.left} y={panelTop} width={p.right - p.left} height={panelBottom - panelTop} fill="#fff" />
      {/* minor grid */}
      {minorTicks.map((t) => (
        <g key={"m" + t}>
          <line x1={x(t)} x2={x(t)} y1={panelTop} y2={panelBottom} stroke="#efefef" strokeWidth={0.8} />
          <line x1={p.left} x2={p.right} y1={y(t)} y2={y(t)} stroke="#efefef" strokeWidth={0.8} />
        </g>
      ))}
      {/* major grid */}
      {ticks.map((t) => (
        <g key={"M" + t}>
          <line x1={x(t)} x2={x(t)} y1={panelTop} y2={panelBottom} stroke="#c4c4c4" strokeWidth={1.3} />
          <line x1={p.left} x2={p.right} y1={y(t)} y2={y(t)} stroke="#c4c4c4" strokeWidth={1.3} />
        </g>
      ))}
      {/* points */}
      <g>
        {pts.map((q, i) =>
          q.s === 0 ? (
            <circle key={i} cx={x(q.d[0])} cy={y(q.d[1])} r={3.3} fill={colors[0]} />
          ) : (
            <path key={i} d={triPath} transform={`translate(${x(q.d[0])},${y(q.d[1])})`} fill={colors[1]} />
          )
        )}
      </g>
      {/* border */}
      <rect x={p.left} y={panelTop} width={p.right - p.left} height={panelBottom - panelTop} fill="none" stroke="#555" strokeWidth={1.1} />
      {/* ticks */}
      <g fontFamily={font} fontSize={16} fill="#4d4d4d">
        {ticks.map((t) => (
          <g key={"xt" + t}>
            <line x1={x(t)} x2={x(t)} y1={panelBottom} y2={panelBottom + 4} stroke="#333" strokeWidth={1.1} />
            <text x={x(t)} y={panelBottom + 19.5} textAnchor="middle">{t}</text>
          </g>
        ))}
        {ticks.map((t) => (
          <g key={"yt" + t}>
            <line x1={p.left - 4} x2={p.left} y1={y(t)} y2={y(t)} stroke="#333" strokeWidth={1.1} />
            <text x={p.left - 6} y={y(t) + 5.7} textAnchor="end">{t}</text>
          </g>
        ))}
      </g>
      {/* axis titles */}
      <text x={cx} y={548} textAnchor="middle" fontFamily={font} fontWeight="bold" fontSize={18} fill="#000">
        {xTitle}
      </text>
      <text
        transform={`translate(${p.yTitleX},${cy}) rotate(-90)`}
        textAnchor="middle"
        fontFamily={font}
        fontWeight="bold"
        fontSize={18}
        fill="#000"
      >
        {p.yTitle}
      </text>
    </g>
  );
}

export default function App() {
  return (
    <svg
      width={W}
      height={H}
      viewBox={`0 0 ${W} ${H}`}
      style={{ position: "absolute", left: 0, top: 0, background: "#fff" }}
    >
      <rect width={W} height={H} fill="#fff" />
      {panels.map((p, i) => (
        <Panel key={i} p={p} />
      ))}
    </svg>
  );
}
